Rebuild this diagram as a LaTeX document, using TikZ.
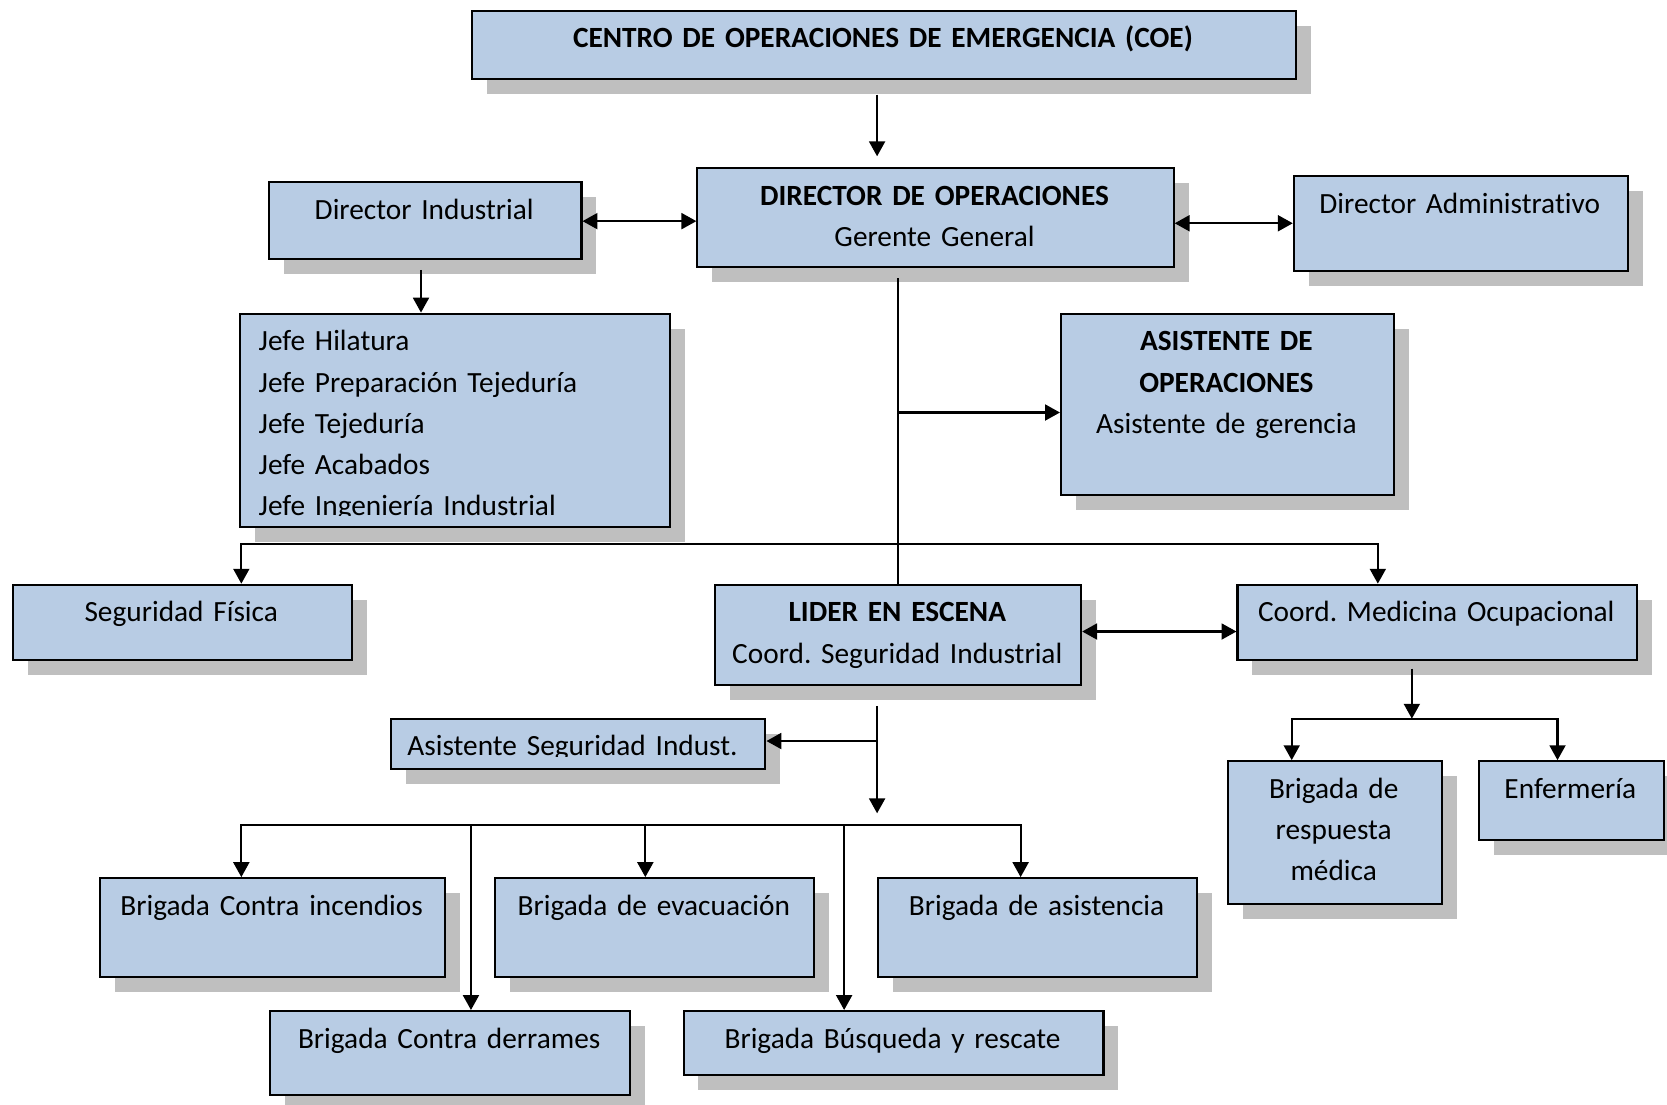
\documentclass[tikz,border=0pt]{standalone}
\usepackage{fontspec}
\setmainfont{Carlito}[Ligatures=NoCommon]
\usetikzlibrary{arrows.meta,calc}
\definecolor{boxfill}{HTML}{B8CCE4}
\definecolor{shadowc}{HTML}{BFBFBF}
\tikzset{
  box/.style={draw=black, line width=1.1pt, fill=boxfill, inner sep=0pt},
  txt/.style={inner sep=0pt, font=\fontsize{15.7}{22.1}\selectfont\frenchspacing, align=center},
  conn/.style={line width=1.1pt},
  arr/.style={conn, -{Triangle[length=0.28cm,width=0.3cm]}},
  darr/.style={conn, {Triangle[length=0.28cm,width=0.3cm]}-{Triangle[length=0.28cm,width=0.3cm]}},
}
% name, x1, y1, x2, y2, text
\newcommand\obox[6]{%
  \fill[shadowc] ({#2+15},{#3+15}) rectangle ({#4+15},{#5+15});
  \node[box, anchor=north west, minimum width={(#4-#2)*0.02cm}, minimum height={(#5-#3)*0.02cm}] (#1) at (#2,#3) {};
  \begin{scope}
    \clip (#2,#3) rectangle (#4,{#5-10});
    \node[txt, text width={(#4-#2)*0.02cm}, anchor=base] (#1-t) at ({(#2+#4)/2},{#3+36}) {#6};
  \end{scope}}
\begin{document}
\begin{tikzpicture}[x=0.02cm,y=-0.02cm]
\clip (0,0) rectangle (1568,1039);
\fill[white] (0,0) rectangle (1568,1039);

\obox{coe}{443}{9}{1218}{73}{\textbf{CENTRO DE OPERACIONES DE EMERGENCIA (COE)}}
\obox{dop}{655}{157}{1103}{250}{\textbf{DIRECTOR DE OPERACIONES}\\Gerente General}
\obox{dind}{252}{170}{546}{243}{Director Industrial}
\obox{dadm}{1216}{165}{1530}{254}{Director Administrativo}

% Jefe box (left aligned)
\fill[shadowc] (240,309) rectangle (644,510);
\node[box, anchor=north west, minimum width={404*0.02cm}, minimum height={201*0.02cm}] (jefe) at (225,294) {};
\begin{scope}
  \clip (225,294) rectangle (629,485);
  \node[txt, align=left, text width={380*0.02cm}, anchor=base west] (jefe-t) at (243,330)
    {Jefe Hilatura\\Jefe Preparación Tejeduría\\Jefe Tejeduría\\Jefe Acabados\\Jefe Ingeniería Industrial};
\end{scope}

\obox{aop}{997}{294}{1310}{465}{\textbf{ASISTENTE DE}\\\textbf{OPERACIONES}\\Asistente de gerencia}
\obox{segf}{11}{549}{330}{620}{Seguridad Física}
\obox{lid}{672}{549}{1016}{643}{\textbf{LIDER EN ESCENA}\\Coord. Seguridad Industrial}
\obox{medic}{1163}{549}{1539}{620}{Coord. Medicina Ocupacional}
\obox{asis}{367}{675}{719}{722}{\hspace*{-0.18cm}Asistente Seguridad Indust.}
\obox{brm}{1154}{715}{1355}{849}{Brigada de\\respuesta\\médica}
\obox{enf}{1390}{715}{1564}{789}{Enfermería}
\obox{bci}{93}{825}{418}{918}{Brigada Contra incendios}
\obox{bev}{465}{825}{765}{918}{Brigada de evacuación}
\obox{bas}{825}{825}{1125}{918}{Brigada de asistencia}
\obox{bcd}{253}{950}{592}{1029}{Brigada Contra derrames}
\obox{bbr}{642}{950}{1037}{1010}{Brigada Búsqueda y rescate}

% connectors
\draw[arr] ($(825,0 |- coe.south)+(0,14)$) -- ($(825,0 |- dop.north)+(0,-10)$);
\draw[darr] (0,208 -| dind.east) -- (0,208 -| dop.west);
\draw[darr] (0,210 -| dop.east) -- (0,210 -| dadm.west);
\draw[arr] ($(396,0 |- dind.south)+(0,9)$) -- (396,0 |- jefe.north);

\coordinate (tj) at (845,388);
\draw[conn] ($(845,0 |- dop.south)+(0,10)$) -- (845,0 |- lid.north);
\draw[arr] (tj) -- (tj -| aop.west);

\coordinate (hL) at (227,512);
\coordinate (hR) at (1296,512);
\draw[arr] (hR) -- (hL) -- (hL |- segf.north);
\draw[arr] (hL) -- (hR) -- (hR |- medic.north);

\draw[darr] (0,594 -| lid.east) -- (0,594 -| medic.west);

\coordinate (lj) at (825,697);
\coordinate (lend) at (825,765);
\draw[arr] ($(825,0 |- lid.south)+(0,19)$) -- (lend);
\draw[arr] (lj) -- (lj -| asis.east);

\coordinate (bL) at (227,776);
\coordinate (bR) at (960,776);
\coordinate (b2) at (607,776);
\coordinate (b3) at (443,776);
\coordinate (b4) at (794,776);
\draw[arr] (bR) -- (bL) -- (bL |- bci.north);
\draw[arr] (bL) -- (bR) -- (bR |- bas.north);
\draw[arr] (b2) -- (b2 |- bev.north);
\draw[arr] (b3) -- (b3 |- bcd.north);
\draw[arr] (b4) -- (b4 |- bbr.north);

\coordinate (mj) at (1328,676);
\coordinate (mL) at (1215,676);
\coordinate (mR) at (1465,676);
\draw[arr] ($(1328,0 |- medic.south)+(0,7)$) -- (mj);
\draw[arr] (mR) -- (mL) -- (mL |- brm.north);
\draw[arr] (mL) -- (mR) -- (mR |- enf.north);
\end{tikzpicture}
\end{document}
